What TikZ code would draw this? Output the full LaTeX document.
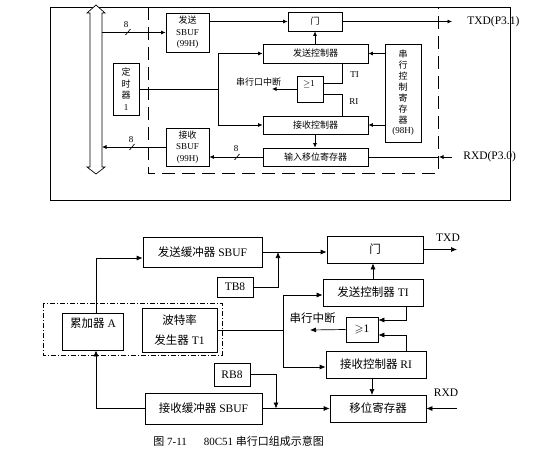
\documentclass[tikz,border=0pt]{standalone}
\usepackage{amssymb}
\usepackage{fontspec}
\setmainfont{Liberation Serif}
\newfontfamily\cjkf{Noto Sans CJK SC}
\newcommand\zhx[1]{{\cjkf #1}}
\usetikzlibrary{arrows.meta}
\begin{document}
\begin{tikzpicture}[x=1pt,y=-1pt, line width=0.7pt,
  box/.style={draw, inner sep=0pt, align=center},
  txt/.style={inner sep=0pt, align=center},
  arrs/.style={-{Latex[length=4.5pt,width=4pt]}},
  arrb/.style={-{Latex[length=6pt,width=5pt]}},
  tf/.style={font=\fontsize{9}{11.5}\selectfont},
  vf/.style={font=\fontsize{9}{10.9}\selectfont},
  lf/.style={font=\fontsize{11.5}{12}\selectfont},
  bf/.style={font=\fontsize{11.5}{20}\selectfont}]
\useasboundingbox (0,0) rectangle (559,454);

% ================= TOP DIAGRAM =================
% outer frame and dashed region
\draw (50,7) rectangle (510,200);
\draw[dash pattern=on 13pt off 7pt] (148,7) rectangle (438,173);
% bus double arrow
\draw[fill=white] (96,5) -- (105,13) -- (102,13) -- (102,167) -- (105,167) -- (96,174)
  -- (87,167) -- (90,167) -- (90,13) -- (87,13) -- cycle;

\node[box,tf,minimum width=43pt,minimum height=39pt] (sbufT) at (187.5,32.5) {\zhx{发送}\\SBUF\\(99H)};
\node[box,tf,minimum width=26pt,minimum height=52pt] (timer) at (126,89) {\zhx{定}\\\zhx{时}\\\zhx{器}\\1};
\node[box,tf,minimum width=43pt,minimum height=38pt] (sbufR) at (187.5,147) {\zhx{接收}\\SBUF\\(99H)};
\node[box,tf,minimum width=54pt,minimum height=19pt] (gateT) at (315,21.5) {\zhx{门}};
\node[box,tf,minimum width=105pt,minimum height=19pt] (txctlT) at (315.5,53.5) {\zhx{发送控制器}};
\node[box,tf,minimum width=26pt,minimum height=26pt] (orT) at (310,89) {};
\node[txt,tf] (orTt) at (309,84) {$\geq$1};
\node[box,tf,minimum width=105pt,minimum height=18pt] (rxctlT) at (315.5,125) {\zhx{接收控制器}};
\node[box,tf,minimum width=105pt,minimum height=18pt] (shiftT) at (315.5,157) {\zhx{输入移位寄存器}};
\node[box,vf,minimum width=36pt,minimum height=98pt] (sconT) at (403,93) {\zhx{串}\\\zhx{行}\\\zhx{控}\\\zhx{制}\\\zhx{寄}\\\zhx{存}\\\zhx{器}\\(98H)};

\coordinate (busT) at (102,32.5);
\coordinate (busR) at (102,147);
\coordinate (txdT) at (452,21.5);
\coordinate (rxdT) at (452,157);
\coordinate (rxdM) at (439,157);
\coordinate (jT) at (218,89);
\coordinate (intT) at (272,89);
\coordinate (tiT) at (342,83);
\coordinate (riT) at (342,94);

\draw[arrs] (busT) -- (sbufT.west);
\draw (125.5,35) -- (130.5,29);
\node[txt,tf] (n8a) at (126,25) {8};
\draw[arrs] (sbufT.east |- gateT.west) -- (gateT.west);
\draw[arrs] (gateT.east) -- (txdT);
\node[txt,lf,anchor=west] (txdTl) at (467,22) {TXD(P3.1)};
\draw[arrs] (txctlT.north -| gateT.south) -- (gateT.south);
\draw (timer.east) -- (jT);
\draw[arrs] (jT) |- (txctlT.west);
\draw[arrs] (jT) |- (rxctlT.west);
\draw[arrs] (orT.west) -- (intT);
\node[txt,tf] (intTl) at (258.5,82) {\zhx{串行口中断}};
\draw (tiT |- txctlT.south) -- (tiT) -- (tiT -| orT.east);
\draw (riT |- rxctlT.north) -- (riT) -- (riT -| orT.east);
\node[txt,tf,anchor=west] (tiTl) at (350,75) {TI};
\node[txt,tf,anchor=west] (riTl) at (349,102) {RI};
\draw[arrs] (sconT.west |- txctlT.east) -- (txctlT.east);
\draw[arrs] (sconT.west |- rxctlT.east) -- (rxctlT.east);
\draw[arrs] (rxctlT.south -| gateT.south) -- (shiftT.north -| gateT.south);
\draw[arrs] (shiftT.west) -- (sbufR.east |- shiftT.west);
\draw (234.5,160) -- (239.5,154);
\node[txt,tf] (n8c) at (236,149) {8};
\draw[arrs] (sbufR.west) -- (busR);
\draw (129.5,150) -- (134.5,144);
\node[txt,tf] (n8b) at (131,140) {8};
\draw[arrs] (rxdT) -- (rxdM);
\draw (rxdM) -- (shiftT.east);
\node[txt,lf,anchor=west] (rxdTl) at (463,157) {RXD(P3.0)};

% ================= BOTTOM DIAGRAM =================
\draw[line width=0.6pt, dash pattern=on 5pt off 2pt on 1pt off 2pt] (43,303) rectangle (222,355);
\node[box,bf,minimum width=119pt,minimum height=30pt] (sbufTx) at (202.5,252) {\zhx{发送缓冲器} SBUF};
\node[box,bf,minimum width=96pt,minimum height=27pt] (gateB) at (375,249.5) {\zhx{门}};
\node[box,bf,minimum width=36pt,minimum height=20pt] (tb8) at (235,287) {TB8};
\node[box,minimum width=61pt,minimum height=37pt] (acc) at (92.5,331.5) {};
\node[txt,bf] (accl) at (93,323) {\zhx{累加器} A};
\node[box,bf,minimum width=75pt,minimum height=44pt] (baud) at (179.5,330) {\zhx{波特率}\\\zhx{发生器} T1};
\node[box,bf,minimum width=100pt,minimum height=27pt] (txctlB) at (373,292.5) {\zhx{发送控制器} TI};
\node[box,bf,minimum width=32pt,minimum height=25pt] (orB) at (362,329.5) {$\geqslant$1};
\node[box,bf,minimum width=100pt,minimum height=27pt] (rxctlB) at (376,364.5) {\zhx{接收控制器} RI};
\node[box,bf,minimum width=96pt,minimum height=27pt] (shiftB) at (378,408.5) {\zhx{移位寄存器}};
\node[box,bf,minimum width=117pt,minimum height=31pt] (sbufRx) at (203.5,408.5) {\zhx{接收缓冲器} SBUF};
\node[box,bf,minimum width=36pt,minimum height=23pt] (rb8) at (232,374.5) {RB8};

\coordinate (jtB) at (278,252);
\coordinate (jrB) at (276,408.5);
\coordinate (jbB) at (283,330);
\coordinate (intB) at (310,330);
\coordinate (tiB) at (406,320);
\coordinate (riB) at (406,335);
\coordinate (txdB) at (457,249.5);
\coordinate (rxdB) at (457,408.5);
\coordinate (accT) at (96,258);
\coordinate (accB) at (96,408.5);

\draw[arrb] (sbufTx.east) -- (gateB.west |- sbufTx.east);
\draw[arrb] (tb8.east) -| (jtB);
\draw[arrb] (gateB.east) -- (txdB);
\node[txt,bf] (txdBl) at (448,238) {TXD};
\draw[arrb] (accT |- acc.north) -- (accT) -- (sbufTx.west |- accT);
\draw[arrb] (sbufRx.west) -- (accB) -- (accB |- acc.south);
\draw (baud.east) -- (jbB);
\draw[arrb] (jbB) |- ([yshift=-2.5pt]txctlB.west);
\draw[arrb] (jbB) |- ([yshift=-2.5pt]rxctlB.west);
\draw[arrb] (orB.west) -- (intB);
\node[txt,bf] (intBl) at (312.5,318) {\zhx{串行中断}};
\draw[arrb] (tiB |- txctlB.south) -- (tiB) -- (tiB -| orB.east);
\draw[arrb] (riB |- rxctlB.north) -- (riB) -- (riB -| orB.east);
\draw[arrb] (txctlB.north) -- (txctlB.north |- gateB.south);
\draw[arrb] (rxctlB.south -| 372,0) -- (372,395);
\draw[arrb] (rb8.east) -| (jrB);
\draw[arrb] (sbufRx.east) -- (shiftB.west);
\draw[arrb] (rxdB) -- (shiftB.east);
\node[txt,bf] (rxdBl) at (446,393) {RXD};

% caption
\node[txt,font=\fontsize{11}{13}\selectfont,anchor=west] (cap) at (153,441) {\zhx{图} 7-11\hspace{17pt}80C51 \zhx{串行口组成示意图}};
\end{tikzpicture}
\end{document}
